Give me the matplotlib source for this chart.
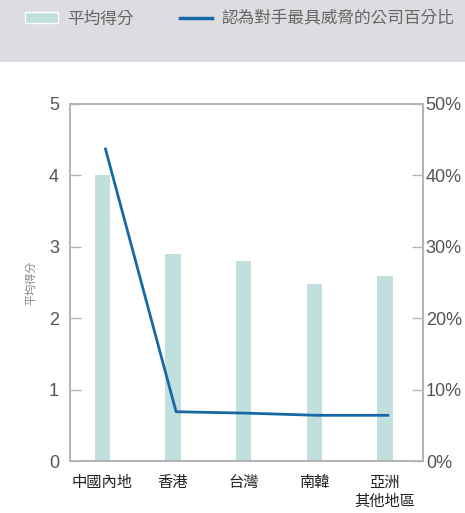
import matplotlib
matplotlib.use("Agg")
import matplotlib.pyplot as plt
from matplotlib.patches import Rectangle
from matplotlib.lines import Line2D
from matplotlib.patches import Patch
import matplotlib.transforms as mtransforms

categories = ["中國內地", "香港", "台灣", "南韓", "亞洲\n其他地區"]
avg_score = [4.0, 2.9, 2.8, 2.48, 2.59]
threat_pct = [43.7, 6.9, 6.7, 6.4, 6.4]
left_ticks = [0, 1, 2, 3, 4, 5]
right_ticks = [0, 10, 20, 30, 40, 50]
right_labels = ["0%", "10%", "20%", "30%", "40%", "50%"]

CJK = ["Noto Sans CJK TC", "DejaVu Sans"]
NUM = ["Liberation Sans", "DejaVu Sans"]
bar_color = "#c1dfdc"
line_color = "#1769a6"
spine_color = "#b5b5b5"
tick_text = "#555555"

fig = plt.figure(figsize=(4.65, 5.13), dpi=100)
fig.patch.set_facecolor("white")
fig.patches.append(Rectangle((0, 1 - 62 / 513), 1, 62 / 513, transform=fig.transFigure,
                             facecolor="#dcdde0", edgecolor="none", zorder=0))

ax = fig.add_axes([70 / 465, 1 - 461 / 513, 353 / 465, 357 / 513])
x = list(range(len(categories)))
ax.bar(x, avg_score, width=0.22, color=bar_color, zorder=2)
ax.set_xlim(-0.46, 4.54)
ax.set_ylim(0, 5)
ax.set_yticks(left_ticks)
ax.set_yticklabels([str(t) for t in left_ticks], fontfamily=NUM, fontsize=13, color=tick_text)
ax.tick_params(axis="y", direction="in", length=8, width=1, color=spine_color, pad=8)
ax.set_xticks(x)
ax.set_xticklabels(categories, fontfamily=CJK, fontsize=11, color="#222222", linespacing=1.2)
ax.tick_params(axis="x", length=0, pad=9)
for s in ax.spines.values():
    s.set_color(spine_color)
    s.set_linewidth(1.3)
ax.set_ylabel("平均得分", fontfamily=CJK, fontsize=8, color="#888888", labelpad=9)

ax2 = ax.twinx()
offset = mtransforms.ScaledTranslation(3 / 100, 0, fig.dpi_scale_trans)
ax2.plot(x, threat_pct, color=line_color, linewidth=2, zorder=3,
         transform=ax2.transData + offset)
ax2.set_ylim(0, 50)
ax2.set_yticks(right_ticks)
ax2.set_yticklabels(right_labels, fontfamily=NUM, fontsize=13, color=tick_text)
ax2.tick_params(axis="y", direction="in", length=8, width=1, color=spine_color, pad=2)
for s in ax2.spines.values():
    s.set_color(spine_color)
    s.set_linewidth(1.3)

handles = [Patch(facecolor=bar_color, edgecolor="white", linewidth=1),
           Line2D([0], [0], color=line_color, linewidth=2.5)]
fig.legend(handles, ["平均得分", "認為對手最具威脅的公司百分比"], loc="center left",
           bbox_to_anchor=(25 / 465, 1 - 19 / 513), ncol=2, frameon=False,
           prop={"family": CJK, "size": 12}, labelcolor="#666666",
           handlelength=1.95, handleheight=0.6, handletextpad=0.55, columnspacing=2.8,
           borderaxespad=0, borderpad=0)

fig.savefig("out.png", dpi=100)
